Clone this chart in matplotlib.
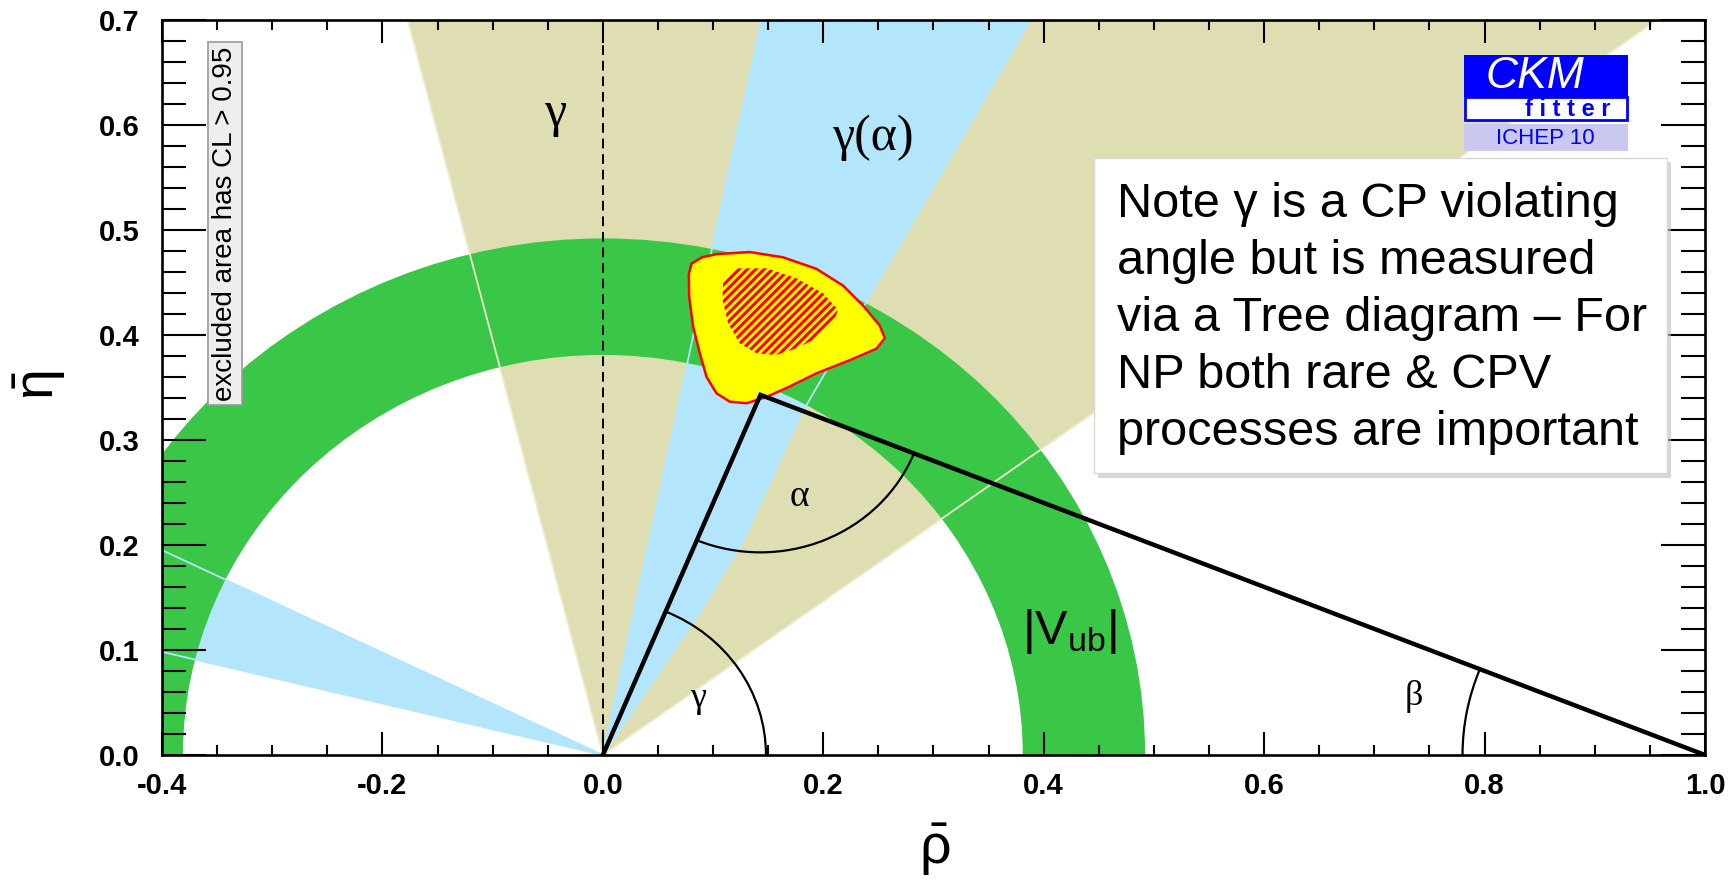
import numpy as np
import matplotlib.pyplot as plt
from matplotlib.patches import Polygon, Rectangle, Wedge, Arc

plt.rcParams['font.family'] = ['Liberation Sans', 'DejaVu Sans']
plt.rcParams['mathtext.fontset'] = 'custom'
plt.rcParams['mathtext.rm'] = 'Liberation Sans'
plt.rcParams['mathtext.it'] = 'Liberation Sans'
plt.rcParams['mathtext.bf'] = 'Liberation Sans:bold'
plt.rcParams['hatch.linewidth'] = 2.2

# Axis ticks
xticks = [-0.4, -0.2, 0.0, 0.2, 0.4, 0.6, 0.8, 1.0]
xticklabels = ['-0.4', '-0.2', '0.0', '0.2', '0.4', '0.6', '0.8', '1.0']
yticks = [0.0, 0.1, 0.2, 0.3, 0.4, 0.5, 0.6, 0.7]
yticklabels = ['0.0', '0.1', '0.2', '0.3', '0.4', '0.5', '0.6', '0.7']

# Constraint bands (angles in degrees, seen from the origin)
gamma_band = (36.2, 104.2)
alpha_left = 78.4
alpha_right_r = [0.0, 0.05, 0.16, 0.24, 0.37, 1.4]
alpha_right_deg = [57.0, 57.0, 57.0, 58.0, 61.0, 61.0]
alpha_mirror = (154.0, 166.2)
vub_radii = (0.381, 0.492)

# Unitarity triangle apex
apex = (0.143, 0.343)

# Global fit contours (95% outer, 68% hatched)
cl95_x = [0.0805, 0.0900, 0.1031, 0.1333, 0.1635, 0.1938, 0.2180, 0.2361, 0.2512, 0.2558,
          0.2483, 0.2240, 0.1938, 0.1696, 0.1485, 0.1303, 0.1152, 0.1031, 0.0941, 0.0880,
          0.0819, 0.0783, 0.0780]
cl95_y = [0.468, 0.474, 0.477, 0.479, 0.474, 0.463, 0.447, 0.428, 0.409, 0.397,
          0.387, 0.376, 0.3635, 0.351, 0.341, 0.335, 0.3365, 0.3445, 0.360, 0.3826,
          0.408, 0.4365, 0.4580]
cl68_x = [0.1091, 0.1213, 0.1485, 0.1757, 0.1999, 0.2134, 0.2089, 0.1938, 0.1757, 0.1576,
          0.1394, 0.1243, 0.1137, 0.1086]
cl68_y = [0.4508, 0.4635, 0.4635, 0.4540, 0.4397, 0.4238, 0.4111, 0.3968, 0.3873, 0.3810,
          0.3826, 0.3920, 0.4111, 0.4333]

# Colours
tan = '#dfdeb3'
blue = '#b3e6fc'
green = '#3ac748'

W, H = 1733, 882
fig = plt.figure(figsize=(W / 100, H / 100), dpi=100)
ax = fig.add_axes([162 / W, 1 - 755 / H, (1705 - 162) / W, (755 - 20) / H])
ax.set_xlim(-0.4, 1.0)
ax.set_ylim(0.0, 0.7)
ax.set_axisbelow(False)


def pol(r, deg):
    t = np.radians(deg)
    return r * np.cos(t), r * np.sin(t)


# gamma band
ax.add_patch(Wedge((0, 0), 2.0, gamma_band[0], gamma_band[1], fc=tan, ec='none', zorder=1))

# gamma(alpha) band and its mirror solution
rx, ry = pol(np.array(alpha_right_r), np.array(alpha_right_deg))
lx, ly = pol(1.4, alpha_left)
blue_pts = list(zip(rx, ry)) + [(lx, ly)]
ax.add_patch(Polygon(blue_pts, closed=True, fc=blue, ec='none', zorder=1.2))
ax.add_patch(Wedge((0, 0), 2.0, alpha_mirror[0], alpha_mirror[1], fc=blue, ec='none', zorder=1.2))

# |Vub| ring
ax.add_patch(Wedge((0, 0), vub_radii[1], 0, 180, width=vub_radii[1] - vub_radii[0],
                   fc=green, ec='none', zorder=1.5))

# band edges seen through the ring
for a in gamma_band:
    ex, ey = pol(np.array([0, 2.0]), a)
    ax.plot(ex, ey, color='#ecebcd', lw=1.3, zorder=1.7)
for a in [alpha_left] + list(alpha_mirror):
    ex, ey = pol(np.array([0, 2.0]), a)
    ax.plot(ex, ey, color=blue, lw=1.3, zorder=1.7)
ax.plot(rx, ry, color=blue, lw=1.3, zorder=1.7)

# rho = 0 line
ax.axvline(0.0, color='black', lw=1.4, ls=(0, (5, 3)), zorder=1.8)

# fit contours
ax.add_patch(Polygon(list(zip(cl95_x, cl95_y)), closed=True, fc='yellow', ec='red',
                     lw=1.8, joinstyle='round', zorder=2))
ax.add_patch(Polygon(list(zip(cl68_x, cl68_y)), closed=True, fc='none', ec='red',
                     lw=0, hatch='////', zorder=2.1))

# Unitarity triangle
ax.plot([0.0, apex[0], 1.0], [0.0, apex[1], 0.0], color='black', lw=3.2,
        solid_joinstyle='miter', zorder=3)
ang_g = np.degrees(np.arctan2(apex[1], apex[0]))
ang_b = np.degrees(np.arctan2(apex[1], 1.0 - apex[0]))
ax.add_patch(Arc((0, 0), 0.296, 0.296, theta1=0, theta2=ang_g, color='black', lw=1.6, zorder=3))
ax.add_patch(Arc(apex, 0.30, 0.30, theta1=180 + ang_g, theta2=360 - ang_b,
                 color='black', lw=1.6, zorder=3))
ax.add_patch(Arc((1.0, 0.0), 0.44, 0.44, theta1=180 - ang_b, theta2=180,
                 color='black', lw=1.6, zorder=3))

# Labels inside the plot
serif = ['Liberation Serif', 'DejaVu Serif']
ax.text(-0.0435, 0.611, 'γ', fontsize=36, family=serif, ha='center', va='center', zorder=4)
ax.text(0.245, 0.588, 'γ(α)', fontsize=36, family=serif, ha='center', va='center', zorder=4)
ax.text(0.178, 0.246, 'α', fontsize=27, family=serif, ha='center', va='center', zorder=4)
ax.text(0.0865, 0.054, 'γ', fontsize=26, family=serif, ha='center', va='center', zorder=4)
ax.text(0.736, 0.056, 'β', fontsize=26, family=serif, ha='center', va='center', zorder=4)
ax.text(0.4236, 0.1174, r'$|\mathrm{V}_{\mathrm{ub}}|$', fontsize=35,
        ha='center', va='center', zorder=4)
ax.text(-0.343, 0.506, 'excluded area has CL > 0.95', rotation=90, fontsize=20,
        ha='center', va='center', zorder=4,
        bbox=dict(boxstyle='square,pad=0.15', fc='#eeeeee', ec='#9a9a9a', lw=1.2))

# Ticks and axes
ax.set_xticks(xticks)
ax.set_xticklabels(xticklabels, fontweight='bold', fontsize=21)
ax.set_yticks(yticks)
ax.set_yticklabels(yticklabels, fontweight='bold', fontsize=21)
ax.set_xticks(np.arange(-0.4, 1.0001, 0.05), minor=True)
ax.set_yticks(np.arange(0.0, 0.7001, 0.02), minor=True)
ax.tick_params(axis='x', which='major', direction='in', length=16.5, width=1.5, top=True, pad=12)
ax.tick_params(axis='x', which='minor', direction='in', length=7.5, width=1.5, top=True)
ax.tick_params(axis='y', which='major', direction='in', length=32, width=1.5, right=True, pad=16)
ax.tick_params(axis='y', which='minor', direction='in', length=17, width=1.5, right=True)
for s in ax.spines.values():
    s.set_linewidth(1.9)

fig.text(935 / W, 1 - 850 / H, r'$\bar{\rho}$', fontsize=40, ha='center', va='center')
fig.text(40 / W, 1 - 385 / H, r'$\bar{\eta}$', fontsize=40, ha='center', va='center', rotation=90)


# Logo and note box (figure pixel coordinates)
def frect(x0, y0, x1, y1, **kw):
    fig.patches.append(Rectangle((x0 / W, 1 - y1 / H), (x1 - x0) / W, (y1 - y0) / H,
                                 transform=fig.transFigure, **kw))


frect(1464, 55, 1628, 97, fc='#0000ff', ec='none', zorder=5)
frect(1465, 97, 1627, 120, fc='white', ec='#0000ff', lw=2.0, zorder=5)
frect(1464, 124, 1628, 151, fc='#c8c8f0', ec='none', zorder=5)
fig.text(1535 / W, 1 - 77 / H, 'CKM', color='white', fontsize=32, style='italic',
         ha='center', va='center', zorder=6)
fig.text(1568 / W, 1 - 110 / H, 'f i t t e r', color='#0000ff', fontsize=17, fontweight='bold',
         ha='center', va='center', zorder=6)
fig.text(1545 / W, 1 - 139 / H, 'ICHEP 10', color='#0000ff', fontsize=16,
         ha='center', va='center', zorder=6)

frect(1098, 162, 1671, 478, fc='#bdbdbd', ec='none', alpha=0.6, zorder=5)
frect(1094, 158, 1667, 473, fc='white', ec='#d8d8d8', lw=1.0, zorder=5.1)
note_lines = ['Note γ is a CP violating', 'angle but is measured', 'via a Tree diagram – For',
              'NP both rare & CPV', 'processes are important']
for i, line in enumerate(note_lines):
    fig.text(1117 / W, 1 - (217 + 57 * i) / H, line, fontsize=35, ha='left', va='baseline',
             zorder=6)

fig.savefig('out.png', dpi=100)
